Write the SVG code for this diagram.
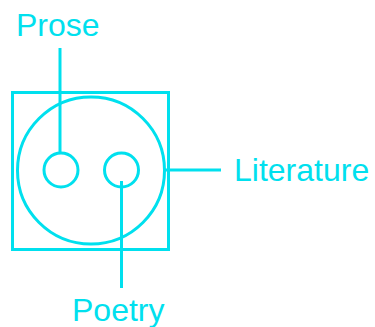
<svg xmlns="http://www.w3.org/2000/svg" width="375" height="327" viewBox="0 0 375 327">
<style>
.s{fill:none;stroke:#00E0EE;stroke-width:3}
.t{font-family:"Liberation Sans",Arial,sans-serif;font-size:32px;fill:#00E0EE}
</style>
<rect width="375" height="327" fill="#fff"/>
<g id="literature">
<rect class="s" x="12.5" y="92.5" width="156" height="157"/>
<circle class="s" cx="91" cy="170.5" r="73.5"/>
<text class="t" x="234" y="181">Literature</text>
</g>
<g id="prose">
<circle class="s" cx="61" cy="170" r="17"/>
<text class="t" x="16" y="35.5">Prose</text>
</g>
<g id="poetry">
<circle class="s" cx="121.5" cy="170" r="17"/>
<text class="t" x="72" y="321">Poetry</text>
</g>
<g id="connectors">
<line class="s" x1="60" y1="48" x2="60" y2="153"/>
<line class="s" x1="121.5" y1="181" x2="121.5" y2="288"/>
<line class="s" x1="165" y1="170" x2="221" y2="170"/>
</g>
</svg>
